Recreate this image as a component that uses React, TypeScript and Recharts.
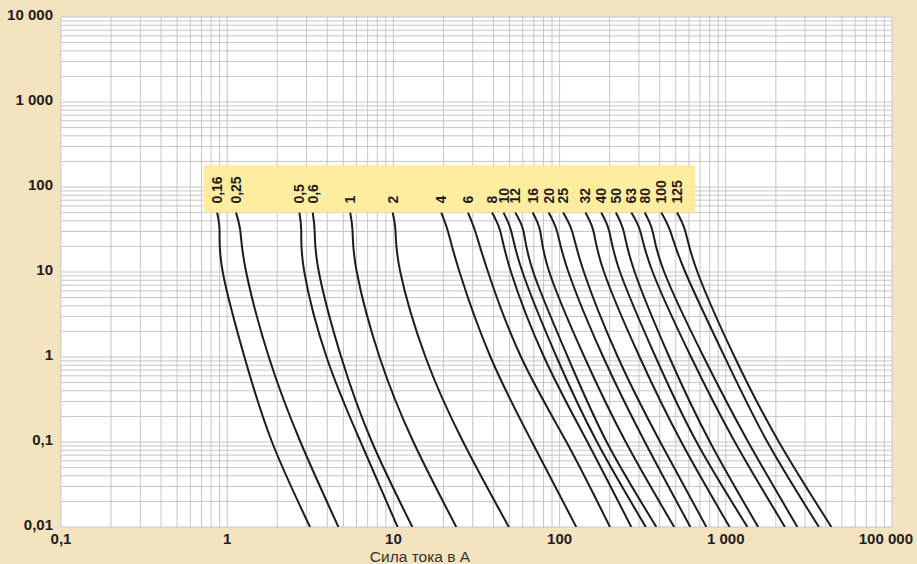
import React from "react";
import {
    LineChart,
    Line,
    XAxis,
    YAxis,
    CartesianGrid,
    ReferenceArea,
} from "recharts";

// --- Data ---

// melting time levels, seconds (shared by every curve)
const TIMES = [50, 30, 10, 1, 0.1, 0.01];

const RATINGS = [
    "0,16", "0,25", "0,5", "0,6", "1", "2", "4", "6", "8", "10", "12",
    "16", "20", "25", "32", "40", "50", "63", "80", "100", "125",
];

// current in A at each of TIMES
const I_0_16 = [0.87, 0.9, 0.94, 1.27, 1.86, 3.15];
const I_0_25 = [1.13, 1.2, 1.3, 1.78, 2.76, 4.67];
const I_0_5 = [2.72, 2.79, 2.91, 3.96, 6.35, 10.6];
const I_0_6 = [3.27, 3.36, 3.56, 4.85, 7.43, 13.0];
const I_1 = [5.5, 5.68, 6.02, 8.25, 13.2, 23.9];
const I_2 = [9.9, 10.3, 11.0, 15.6, 26.3, 49.5];
const I_4 = [19.4, 21.3, 25.0, 38.4, 68.2, 126];
const I_6 = [28.1, 31.1, 37.1, 58.6, 110, 201];
const I_8 = [39.2, 44.0, 51.0, 80.6, 147, 270];
const I_10 = [46.0, 51.2, 59.8, 95.9, 168, 330];
const I_12 = [54.1, 60.7, 69.4, 112, 192, 382];
const I_16 = [68.8, 76.5, 86.7, 141, 250, 489];
const I_20 = [85.9, 96.5, 113, 183, 326, 612];
const I_25 = [105, 119, 140, 224, 403, 764];
const I_32 = [143, 160, 185, 303, 540, 1054];
const I_40 = [178, 199, 231, 378, 667, 1349];
const I_50 = [218, 243, 283, 457, 803, 1566];
const I_63 = [270, 306, 363, 618, 1134, 2268];
const I_80 = [325, 363, 426, 736, 1364, 2696];
const I_100 = [409, 464, 570, 985, 1780, 3633];
const I_125 = [509, 571, 675, 1130, 2087, 4318];

const CURVES = [
    I_0_16, I_0_25, I_0_5, I_0_6, I_1, I_2, I_4, I_6, I_8, I_10, I_12,
    I_16, I_20, I_25, I_32, I_40, I_50, I_63, I_80, I_100, I_125,
];

const X_DECADES = [0.1, 1, 10, 100, 1000, 10000];
const X_LABELS = ["0,1", "1", "10", "100", "1 000", "100 000"];
const Y_DECADES = [0.01, 0.1, 1, 10, 100, 1000, 10000];
const Y_LABELS = ["0,01", "0,1", "1", "10", "100", "1 000", "10 000"];

// label box extent (A, s)
const BOX_X = [0.72, 655];
const BOX_Y = [50, 180];

const X_TITLE = "Сила тока в А";

// --- Constants ---

const WIDTH = 917;
const HEIGHT = 564;
const BG = "#f3e3bf";
const BOX_FILL = "#feec9f";
const GRID = "#c6c6ca";
const INK = "#1f1c1c";
const FONT = "'Liberation Sans', Arial, sans-serif";
const TICK_SIZE = 15;

// every 1..9 step of each decade, for the log grid
function gridTicks(decades: number[])
{
    const out: number[] = [];
    decades.slice(0, -1).forEach((d) =>
    {
        for (let m = 1; m < 10; m++) out.push(d * m);
    });
    out.push(decades[decades.length - 1]);
    return out;
}

function labelIndex(decades: number[], v: number)
{
    return decades.findIndex((d) => Math.abs(v - d) < d * 1e-6);
}

// x tick: only decades get text; the last one is pulled in from the edge
function XTick(props: any)
{
    const i = labelIndex(X_DECADES, props.payload.value);
    if (i < 0) return <g />;
    const last = i === X_DECADES.length - 1;
    return (
        <text
            x={props.x + (last ? 21 : 0)}
            y={props.y + 11}
            textAnchor={last ? "end" : "middle"}
            fontSize={TICK_SIZE}
            fontWeight="bold"
            fontFamily={FONT}
            fill={INK}
        >
            {X_LABELS[i]}
        </text>
    );
}

function YTick(props: any)
{
    const i = labelIndex(Y_DECADES, props.payload.value);
    if (i < 0) return <g />;
    return (
        <text
            x={props.x}
            y={props.y + 3}
            textAnchor="end"
            fontSize={TICK_SIZE}
            fontWeight="bold"
            fontFamily={FONT}
            fill={INK}
        >
            {Y_LABELS[i]}
        </text>
    );
}

function ratingLabel(name: string)
{
    return (props: any) =>
    {
        if (props.index !== 0) return <g />;
        const x = props.x;
        const y = props.y - 9;
        return (
            <text
                x={x}
                y={y}
                transform={`rotate(-90 ${x} ${y})`}
                textAnchor="start"
                dominantBaseline="central"
                fontSize={14}
                fontWeight="bold"
                fontFamily={FONT}
                fill={INK}
            >
                {name}
            </text>
        );
    };
}

export default function App()
{
    return (
        <div
            style={{
                position: "absolute",
                left: 0,
                top: 0,
                width: WIDTH,
                height: HEIGHT,
                background: BG,
                overflow: "hidden",
            }}
        >
            <LineChart
                width={WIDTH}
                height={HEIGHT}
                margin={{ top: 17, right: 25, bottom: 7, left: 0 }}
                style={{ fontFamily: FONT }}
            >
                <CartesianGrid stroke={GRID} strokeWidth={1} fill="#ffffff" />
                <XAxis
                    dataKey="current"
                    type="number"
                    scale="log"
                    domain={[0.1, 10000]}
                    ticks={gridTicks(X_DECADES)}
                    interval={0}
                    axisLine={false}
                    tickLine={false}
                    tickMargin={0}
                    height={30}
                    allowDataOverflow
                    tick={<XTick />}
                    label={{
                        content: () => (
                            <text
                                x={420}
                                y={562}
                                textAnchor="middle"
                                fontSize={15.5}
                                fontFamily={FONT}
                                fill="#333333"
                            >
                                {X_TITLE}
                            </text>
                        ),
                    }}
                />
                <YAxis
                    dataKey="time"
                    type="number"
                    scale="log"
                    domain={[0.01, 10000]}
                    ticks={gridTicks(Y_DECADES)}
                    interval={0}
                    axisLine={false}
                    tickLine={false}
                    width={61}
                    allowDataOverflow
                    tick={<YTick />}
                />
                <ReferenceArea
                    x1={BOX_X[0]}
                    x2={BOX_X[1]}
                    y1={BOX_Y[0]}
                    y2={BOX_Y[1]}
                    fill={BOX_FILL}
                    fillOpacity={1}
                    stroke="none"
                />
                {CURVES.map((currents, k) => (
                    <Line
                        key={RATINGS[k]}
                        data={currents.map((c, i) => ({ current: c, time: TIMES[i] }))}
                        dataKey="time"
                        type="natural"
                        stroke={INK}
                        strokeWidth={2}
                        dot={false}
                        activeDot={false}
                        isAnimationActive={false}
                        label={ratingLabel(RATINGS[k])}
                    />
                ))}
            </LineChart>
        </div>
    );
}
